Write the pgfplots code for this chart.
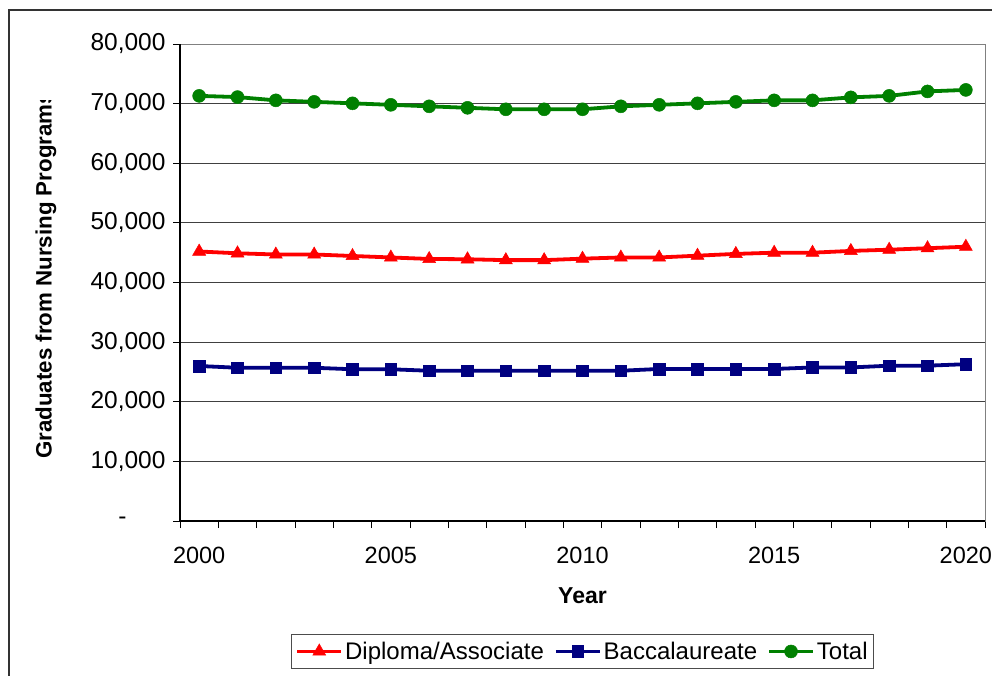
\documentclass[border=0pt]{standalone}
\usepackage{fontspec}
\setmainfont{Liberation Sans}
\usepackage{pgfplots}
\pgfplotsset{compat=1.18}

\definecolor{dipred}{RGB}{255,0,0}
\definecolor{bacblue}{RGB}{0,0,128}
\definecolor{totgreen}{RGB}{0,128,0}

\begin{document}
\begin{tikzpicture}[x=1pt,y=1pt]
\path[use as bounding box] (0,0) rectangle (992,675);
% chart frame
\draw[line width=1.3pt, black!80] (9,-5) -- (9,665) -- (1000,665);
\begin{axis}[
  at={(180pt,154pt)}, anchor=south west,
  scale only axis, width=805pt, height=477pt,
  xmin=1999.5, xmax=2020.5, ymin=0, ymax=80000,
  scaled y ticks=false,
  xtick={1999.5,2000.5,...,2020.5},
  xticklabels={},
  extra x ticks={2000,2005,2010,2015,2020},
  extra x tick labels={2000,2005,2010,2015,2020},
  extra x tick style={grid=none, major tick length=0pt},
  ytick={0,10000,...,70000},
  yticklabels={{\makebox[47pt][l]{-}},{10,000},{20,000},{30,000},{40,000},{50,000},{60,000},{70,000}},
  extra y ticks={80000},
  extra y tick labels={80{,}000},
  extra y tick style={grid=none},
  tick pos=left,
  tick align=outside,
  major tick length=7pt,
  tick style={black, line width=0.9pt},
  ymajorgrids=true,
  grid style={black!75, line width=0.9pt},
  axis line style={black!50, line width=1pt},
  xticklabel style={yshift=-23pt, font=\fontsize{23.5}{28}\selectfont},
  yticklabel style={xshift=-4pt, font=\fontsize{24.5}{28}\selectfont},
  xlabel={\bfseries Year},
  xlabel style={at={(axis description cs:0.5,-0.157)}, anchor=center, font=\fontsize{23}{27}\selectfont},
  legend style={at={(0.5,-0.236)}, anchor=north, legend columns=-1,
    draw=black!70, line width=0.9pt, font=\fontsize{24}{28}\selectfont,
    inner xsep=4pt, inner ysep=6pt,
    /tikz/every even column/.append style={column sep=8pt}},
  legend image code/.code={
    \draw[mark repeat=2, mark phase=2, #1] plot coordinates {(0pt,0pt) (22pt,0pt) (44pt,0pt)};},
  clip=false,
]
\addplot[dipred, line width=3.8pt, mark=triangle*, mark size=7.5pt, mark options={line width=0.5pt}]
  coordinates {
  (2000,45200) (2001,44900) (2002,44700) (2003,44700) (2004,44450)
  (2005,44200) (2006,43950) (2007,43900) (2008,43750) (2009,43750)
  (2010,44000) (2011,44200) (2012,44200) (2013,44500) (2014,44800)
  (2015,45000) (2016,45000) (2017,45300) (2018,45500) (2019,45750)
  (2020,46000)};
\addlegendentry{Diploma/Associate}
\addplot[bacblue, line width=3.8pt, mark=square*, mark size=5.8pt, mark options={line width=0.5pt}]
  coordinates {
  (2000,26000) (2001,25700) (2002,25700) (2003,25700) (2004,25450)
  (2005,25450) (2006,25200) (2007,25200) (2008,25200) (2009,25200)
  (2010,25200) (2011,25200) (2012,25500) (2013,25500) (2014,25500)
  (2015,25500) (2016,25750) (2017,25750) (2018,26050) (2019,26050)
  (2020,26300)};
\addlegendentry{Baccalaureate}
\addplot[totgreen, line width=3.8pt, mark=*, mark size=6.5pt, mark options={line width=0.5pt}]
  coordinates {
  (2000,71300) (2001,71100) (2002,70550) (2003,70300) (2004,70050)
  (2005,69800) (2006,69550) (2007,69300) (2008,69050) (2009,69050)
  (2010,69050) (2011,69550) (2012,69800) (2013,70050) (2014,70300)
  (2015,70550) (2016,70550) (2017,71050) (2018,71300) (2019,72050)
  (2020,72300)};
\addlegendentry{Total}
% solid left and bottom axis lines
\draw[black, line width=1.3pt] (rel axis cs:0,1) -- (rel axis cs:0,0) -- (rel axis cs:1,0);
\end{axis}
% y axis title
\begin{scope}
\clip (20,200) rectangle (80,574);
\node[rotate=90, anchor=west, inner sep=0pt, font=\bfseries\fontsize{22.3}{26}\selectfont]
  at (46,216) {Graduates from Nursing Programs};
\end{scope}
\end{tikzpicture}
\end{document}
